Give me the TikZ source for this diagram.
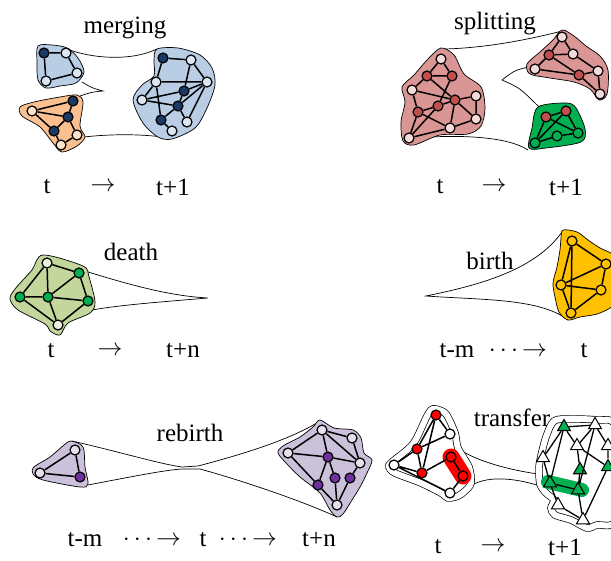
\documentclass[tikz,border=0pt]{standalone}
\usepackage{fontspec}
\setmainfont{Liberation Serif}
\usetikzlibrary{shapes.geometric}
\definecolor{mBlue}{HTML}{B9CDE5}
\definecolor{mDark}{HTML}{1B3A63}
\definecolor{mLight}{HTML}{DCE6F2}
\definecolor{mOrange}{HTML}{FAC090}
\definecolor{mOrLight}{HTML}{FDE3CC}
\definecolor{sRed}{HTML}{D99694}
\definecolor{sRedDark}{HTML}{C0504D}
\definecolor{sRedLight}{HTML}{F2DCDB}
\definecolor{gGreen}{HTML}{00B050}
\definecolor{dOlive}{HTML}{C3D69B}
\definecolor{dLight}{HTML}{EBF1DE}
\definecolor{bGold}{HTML}{FFC000}
\definecolor{rLav}{HTML}{CCC1DA}
\definecolor{rDark}{HTML}{7030A0}
\definecolor{rLight}{HTML}{E5E0EC}
\definecolor{tRed}{HTML}{FF0000}
\newcommand{\arr}{$\rightarrow$}
\newcommand{\darr}{$\cdots\mkern-2mu\rightarrow$}
\tikzset{
  nd/.style={circle, draw=black, line width=1.2pt, minimum size=10pt, inner sep=0pt},
  tri/.style={regular polygon, regular polygon sides=3, draw=black, line width=1pt, minimum size=15pt, inner sep=0pt},
  ed/.style={line width=1.5pt},
  hull/.style={draw=black, line width=0.7pt},
  dhull/.style={draw=black, line width=0.7pt, double=white, double distance=6pt},
  tube/.style={line width=0.7pt},
  lbl/.style={font=\fontsize{25}{29}\selectfont, inner sep=0pt}
}
\begin{document}
\begin{tikzpicture}[x=1pt, y=-1pt]
\useasboundingbox (0,0) rectangle (611,561);
\clip (0,0) rectangle (611,561);

% ================= MERGING =================
\node[lbl] (tmerg) at (125,28) {merging};
\draw[tube] (67,49) .. controls (90,58) and (130,62) .. (157,49);
\draw[tube] (82,82) .. controls (92,88) .. (103,91) .. controls (92,92) .. (80,96);
\draw[tube] (84,137) .. controls (110,134) and (140,134) .. (162,137);
\draw[hull, fill=mBlue] plot[smooth cycle] coordinates {(38,46) (52,45) (67,48) (78,58) (84,72) (76,83) (60,86) (46,88) (38,80) (37,62)};
\draw[hull, fill=mOrange] plot[smooth cycle] coordinates {(20,107) (34,102) (60,97) (77,95) (83,102) (80,126) (85,137) (77,146) (62,152) (53,143) (40,127) (22,116)};
\draw[hull, fill=mBlue] plot[smooth cycle] coordinates {(157,49) (178,48) (200,55) (212,68) (215,85) (207,108) (195,128) (172,139) (158,137) (143,123) (133,100) (142,85) (154,76) (154,60)};
\node[nd, fill=mDark] (ma1) at (44,53) {};
\node[nd, fill=mLight] (ma2) at (66,53) {};
\node[nd, fill=mLight] (ma3) at (77,73) {};
\node[nd, fill=mLight] (ma4) at (46,81) {};
\draw[ed] (ma1)--(ma2) (ma2)--(ma3) (ma3)--(ma4) (ma4)--(ma1);
\node[nd, fill=mDark] (mo1) at (73,101) {};
\node[nd, fill=mOrLight] (mo2) at (32,111) {};
\node[nd, fill=mDark] (mo3) at (68,117) {};
\node[nd, fill=mDark] (mo4) at (54,131) {};
\node[nd, fill=mOrLight] (mo5) at (77,135) {};
\node[nd, fill=mOrLight] (mo6) at (61,145) {};
\draw[ed] (mo2)--(mo1) (mo2)--(mo3) (mo2)--(mo4) (mo1)--(mo3) (mo3)--(mo4) (mo3)--(mo5) (mo4)--(mo6) (mo5)--(mo6);
\node[nd, fill=mDark] (mb1) at (163,58) {};
\node[nd, fill=mLight] (mb2) at (191,60) {};
\node[nd, fill=mLight] (mb3) at (156,82) {};
\node[nd, fill=mLight] (mb4) at (207,82) {};
\node[nd, fill=mDark] (mb5) at (184,91) {};
\node[nd, fill=mLight] (mb6) at (142,100) {};
\node[nd, fill=mDark] (mb7) at (178,106) {};
\node[nd, fill=mDark] (mb8) at (161,120) {};
\node[nd, fill=mLight] (mb9) at (187,122) {};
\node[nd, fill=mLight] (mb10) at (172,131) {};
\draw[ed] (mb1)--(mb2) (mb1)--(mb3) (mb2)--(mb4) (mb2)--(mb5) (mb3)--(mb4) (mb3)--(mb8) (mb6)--(mb3) (mb6)--(mb5) (mb6)--(mb7) (mb4)--(mb5) (mb4)--(mb7) (mb4)--(mb9) (mb5)--(mb7) (mb7)--(mb8) (mb7)--(mb9) (mb8)--(mb10);
\node[lbl] (m1) at (47,187) {t};
\node[lbl] (m2) at (103,187) {\arr};
\node[lbl] (m3) at (173,187) {t+1};

% ================= SPLITTING =================
\node[lbl] (tspl) at (495,24) {splitting};
\draw[tube] (445,49) .. controls (480,48) and (520,42) .. (566,30);
\draw[tube] (533,66) .. controls (515,70) .. (502,80) .. controls (520,88) .. (540,108);
\draw[tube] (430,137) .. controls (470,135) and (510,138) .. (528,150);
\draw[hull, fill=sRed] plot[smooth cycle] coordinates {(441,48) (454,55) (464,74) (481,87) (485,108) (481,126) (468,134) (440,135) (414,145) (403,141) (401,122) (405,102) (402,87) (414,75) (428,59)};
\draw[hull, fill=sRed] plot[smooth cycle] coordinates {(562,30) (574,36) (586,46) (600,56) (608,70) (607,94) (599,100) (590,89) (574,82) (550,78) (530,74) (527,64) (540,52) (553,40)};
\draw[hull, fill=gGreen] plot[smooth cycle] coordinates {(538,107) (566,103) (576,108) (585,129) (581,142) (546,148) (529,148) (532,128)};
\node[nd, fill=sRedLight] (sr1) at (441,59) {};
\node[nd, fill=sRedDark] (sr2) at (427,76) {};
\node[nd, fill=sRedDark] (sr3) at (452,76) {};
\node[nd, fill=sRedLight] (sr4) at (412,90) {};
\node[nd, fill=sRedLight] (sr5) at (476,96) {};
\node[nd, fill=sRedDark] (sr6) at (455,100) {};
\node[nd, fill=sRedDark] (sr7) at (438,106) {};
\node[nd, fill=sRedDark] (sr8) at (418,112) {};
\node[nd, fill=sRedLight] (sr9) at (476,119) {};
\node[nd, fill=sRedLight] (sr10) at (450,128) {};
\node[nd, fill=sRedLight] (sr11) at (409,138) {};
\draw[ed] (sr1)--(sr2) (sr1)--(sr3) (sr2)--(sr3) (sr2)--(sr4) (sr2)--(sr6) (sr3)--(sr7) (sr4)--(sr6) (sr4)--(sr8) (sr6)--(sr5) (sr6)--(sr7) (sr7)--(sr8) (sr6)--(sr10) (sr5)--(sr9) (sr9)--(sr10) (sr8)--(sr10) (sr8)--(sr11) (sr11)--(sr7) (sr11)--(sr10) (sr6)--(sr9);
\node[nd, fill=sRedLight] (ss1) at (562,37) {};
\node[nd, fill=sRedDark] (ss2) at (549,55) {};
\node[nd, fill=sRedLight] (ss3) at (573,54) {};
\node[nd, fill=sRedLight] (ss4) at (535,69) {};
\node[nd, fill=sRedDark] (ss5) at (579,75) {};
\node[nd, fill=sRedLight] (ss6) at (598,71) {};
\node[nd, fill=sRedLight] (ss7) at (600,94) {};
\draw[ed] (ss1)--(ss2) (ss1)--(ss3) (ss2)--(ss4) (ss2)--(ss5) (ss3)--(ss6) (ss4)--(ss5) (ss5)--(ss6) (ss6)--(ss7) (ss5)--(ss7) (ss2)--(ss3);
\node[nd, fill=sRedDark] (sg1) at (546,117) {};
\node[nd, fill=sRedDark] (sg2) at (566,111) {};
\node[nd, fill=gGreen] (sg3) at (535,143) {};
\node[nd, fill=gGreen] (sg4) at (557,136) {};
\node[nd, fill=gGreen] (sg5) at (578,133) {};
\draw[ed] (sg1)--(sg2) (sg1)--(sg3) (sg2)--(sg5) (sg1)--(sg5) (sg2)--(sg3) (sg3)--(sg4) (sg4)--(sg5);
\node[lbl] (s1) at (440,187) {t};
\node[lbl] (s2) at (494,187) {\arr};
\node[lbl] (s3) at (566,187) {t+1};

% ================= DEATH =================
\node[lbl] (tdea) at (131,252) {death};
\draw[tube] (85,271) .. controls (130,285) and (170,296) .. (208,298) .. controls (160,302) and (120,305) .. (92,310);
\draw[hull, fill=dOlive] plot[smooth cycle] coordinates {(43,255) (83,266) (89,277) (95,302) (90,313) (68,323) (60,335) (50,331) (45,324) (18,310) (10,299) (15,289) (32,270)};
\node[nd, fill=dLight] (dn1) at (47,263) {};
\node[nd, fill=gGreen] (dn2) at (79,273) {};
\node[nd, fill=gGreen] (dn3) at (20,297) {};
\node[nd, fill=gGreen] (dn4) at (48,297) {};
\node[nd, fill=gGreen] (dn5) at (88,301) {};
\node[nd, fill=dLight] (dn6) at (58,325) {};
\draw[ed] (dn1)--(dn2) (dn1)--(dn3) (dn1)--(dn4) (dn2)--(dn4) (dn2)--(dn5) (dn3)--(dn4) (dn4)--(dn5) (dn3)--(dn6) (dn4)--(dn6) (dn5)--(dn6);
\node[lbl] (d1) at (51,351) {t};
\node[lbl] (d2) at (110,351) {\arr};
\node[lbl] (d3) at (183,351) {t+n};

% ================= BIRTH =================
\node[lbl] (tbir) at (490,261) {birth};
\draw[tube] (562,232) .. controls (535,270) and (480,285) .. (426,296) .. controls (480,300) and (540,298) .. (568,320);
\draw[hull, fill=bGold] plot[smooth cycle] coordinates {(563,230) (577,232) (588,240) (600,248) (612,254) (618,265) (618,300) (600,313) (580,317) (568,320) (559,312) (555,297) (553,283) (557,267) (560,250) (561,238)};
\node[nd, fill=bGold] (bn1) at (572,241) {};
\node[nd, fill=bGold] (bn2) at (606,264) {};
\node[nd, fill=bGold] (bn3) at (561,285) {};
\node[nd, fill=bGold] (bn4) at (601,290) {};
\node[nd, fill=bGold] (bn5) at (571,313) {};
\draw[ed] (bn1)--(bn2) (bn1)--(bn3) (bn1)--(bn5) (bn2)--(bn3) (bn2)--(bn4) (bn3)--(bn4) (bn3)--(bn5) (bn4)--(bn5);
\node[lbl] (b1) at (457,351) {t-m};
\node[lbl] (b2) at (518,351) {\darr};
\node[lbl] (b3) at (584,351) {t};

% ================= REBIRTH =================
\node[lbl] (treb) at (190,433) {rebirth};
\draw[tube] (72,441) .. controls (120,452) and (160,464) .. (182,467) -- (198,466) .. controls (240,455) and (290,440) .. (320,421);
\draw[tube] (88,485) .. controls (130,477) and (165,470) .. (182,469) -- (200,469) .. controls (240,480) and (300,500) .. (337,517);
\draw[hull, fill=rLav] plot[smooth cycle] coordinates {(71,441) (83,447) (85,467) (88,484) (80,487) (43,480) (33,474) (34,467) (50,457) (64,445)};
\draw[hull, fill=rLav] plot[smooth cycle] coordinates {(320,420) (334,428) (353,430) (361,438) (364,453) (372,460) (367,473) (360,487) (352,500) (343,514) (337,517) (330,510) (320,493) (300,477) (287,464) (278,453) (283,446) (300,437) (313,427)};
\node[nd, fill=rLight] (rl1) at (75,450) {};
\node[nd, fill=rLight] (rl2) at (40,473) {};
\node[nd, fill=rDark] (rl3) at (80,477) {};
\draw[ed] (rl1)--(rl2) (rl2)--(rl3) (rl3)--(rl1);
\node[nd, fill=rLight] (rr1) at (322,430) {};
\node[nd, fill=rLight] (rr2) at (352,438) {};
\node[nd, fill=rLight] (rr3) at (288,453) {};
\node[nd, fill=rDark] (rr4) at (328,457) {};
\node[nd, fill=rLight] (rr5) at (360,463) {};
\node[nd, fill=rDark] (rr6) at (335,478) {};
\node[nd, fill=rDark] (rr7) at (350,478) {};
\node[nd, fill=rDark] (rr8) at (318,485) {};
\node[nd, fill=rLight] (rr9) at (337,505) {};
\draw[ed] (rr1)--(rr2) (rr1)--(rr3) (rr1)--(rr4) (rr1)--(rr5) (rr2)--(rr5) (rr3)--(rr4) (rr3)--(rr8) (rr4)--(rr5) (rr4)--(rr6) (rr4)--(rr8) (rr5)--(rr7) (rr6)--(rr9) (rr8)--(rr9) (rr7)--(rr9);
\node[lbl] (r1) at (85,540) {t-m};
\node[lbl] (r2) at (152,540) {\darr};
\node[lbl] (r3) at (203,540) {t};
\node[lbl] (r4) at (248,540) {\darr};
\node[lbl] (r5) at (319,540) {t+n};

% ================= TRANSFER =================
\node[lbl] (ttra) at (512,418) {transfer};
\draw[tube] (462,451) .. controls (480,462) and (510,470) .. (538,474);
\draw[tube] (474,484) .. controls (490,476) and (515,478) .. (540,486);
\draw[dhull] plot[smooth cycle] coordinates {(436,409) (446,414) (455,433) (458,448) (469,467) (471,483) (465,491) (458,496) (448,498) (441,493) (421,483) (395,473) (389,467) (392,462) (413,444) (426,418) (431,410)};
\draw[dhull] plot[smooth cycle] coordinates {(554,421) (570,419) (597,420) (615,425) (622,480) (615,522) (597,525) (587,528) (571,520) (555,515) (551,508) (554,500) (546,493) (540,484) (539,468) (541,456) (546,437)};
\draw[line width=17pt, line cap=round, tRed] (451,457) -- (463,476);
\draw[line width=14pt, line cap=round, gGreen] (548,482) -- (582,490);
\node[nd, fill=tRed] (tl1) at (436,415) {};
\node[nd, fill=white] (tl2) at (450,434) {};
\node[nd, fill=tRed] (tl3) at (417,449) {};
\node[nd, fill=tRed] (tl4) at (451,457) {};
\node[nd, fill=white] (tl5) at (394,465) {};
\node[nd, fill=tRed] (tl6) at (422,473) {};
\node[nd, fill=tRed] (tl7) at (463,476) {};
\node[nd, fill=white] (tl8) at (450,493) {};
\draw[ed] (tl1)--(tl2) (tl1)--(tl3) (tl1)--(tl6) (tl3)--(tl2) (tl3)--(tl5) (tl5)--(tl6) (tl5)--(tl8) (tl6)--(tl4) (tl4)--(tl7) (tl7)--(tl8) (tl3)--(tl6);
\node[tri, fill=gGreen] (tr1) at (564,427) {};
\node[tri, fill=white] (tr2) at (595,425) {};
\node[tri, fill=white] (tr3) at (577,446) {};
\node[tri, fill=white] (tr4) at (608,446) {};
\node[tri, fill=white] (tr5) at (543,458) {};
\node[tri, fill=gGreen] (tr6) at (580,470) {};
\node[tri, fill=gGreen] (tr7) at (608,467) {};
\node[tri, fill=gGreen] (tr8) at (550,483) {};
\node[tri, fill=gGreen] (tr9) at (578,490) {};
\node[tri, fill=white] (tr10) at (558,505) {};
\node[tri, fill=white] (tr11) at (583,520) {};
\draw[line width=1.3pt] (tr1)--(tr2) (tr1)--(tr5) (tr1)--(tr3) (tr2)--(tr3) (tr2)--(tr4) (tr3)--(tr6) (tr5)--(tr8) (tr1)--(tr8) (tr8)--(tr9) (tr6)--(tr9) (tr9)--(tr11) (tr10)--(tr11) (tr8)--(tr10) (tr4)--(tr7) (tr2)--(tr9) (tr3)--(tr7) (tr7)--(tr11);
\node[lbl] (x1) at (438,547) {t};
\node[lbl] (x2) at (493,547) {\arr};
\node[lbl] (x3) at (565,547) {t+1};
\end{tikzpicture}
\end{document}
